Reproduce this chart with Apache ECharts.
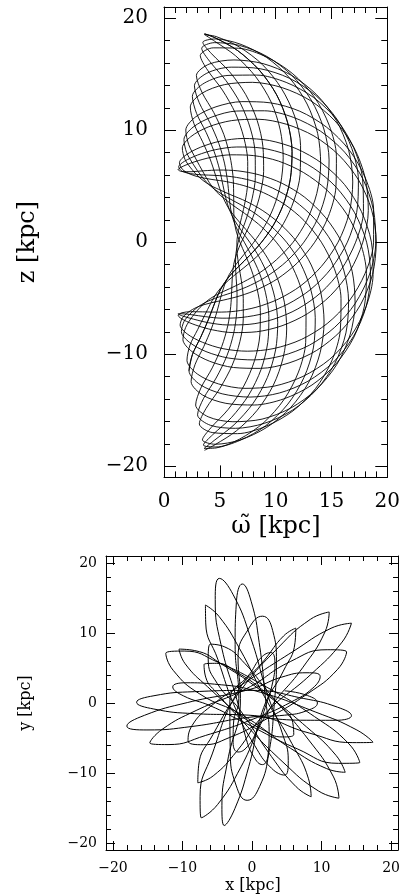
<!DOCTYPE html>
<html>
<head>
<meta charset="utf-8">
<script src="https://cdn.jsdelivr.net/npm/echarts@6/dist/echarts.min.js"></script>
<style>
html,body{margin:0;padding:0;background:#fff;}
#c{width:403px;height:896px;}
</style>
</head>
<body>
<div id="c"></div>
<script>
// ---------- DATA ----------
// Top panel: meridional-plane orbit. Angles (deg from the equator) of the samples along one pole-to-pole sweep:
const sweepAngles = [-79, -75.8, -69, -61.0, -52.6, -44.0, -35.3, -26.5, -17.7, -8.8, 0,
                     8.8, 17.7, 26.5, 35.3, 44.0, 52.6, 61.0, 69, 75.8, 79];
const samplesPerSweep = 20;
// Radius (kpc) of each consecutive sample; sweeps alternate upward / downward.
const meridionalR = [
  11.70, 10.35, 9.11, 8.06, 7.25, 6.72, 6.51, 6.61, 7.03, 7.74, 8.71, 9.88, 11.20, 12.60, 14.01, 15.35, 16.56, 17.56, 18.33, 18.80, 18.96,
  18.80, 18.33, 17.56, 16.56, 15.35, 14.01, 12.60, 11.20, 9.88, 8.71, 7.74, 7.03, 6.61, 6.51, 6.72, 7.25, 8.06, 9.11, 10.35, 11.70,
  13.11, 14.50, 15.81, 16.95, 17.87, 18.53, 18.89, 18.94, 18.66, 18.09, 17.22, 16.14, 14.88, 13.50, 12.10, 10.70, 9.44, 8.33, 7.45, 6.86,
  6.54, 6.56, 6.88, 7.51, 8.42, 9.53, 10.83, 12.21, 13.62, 14.99, 16.24, 17.30, 18.15, 18.70, 18.94, 18.88, 18.49, 17.80, 16.86, 15.70,
  14.39, 12.99, 11.59, 10.24, 9.02, 7.99, 7.20, 6.70, 6.50, 6.62, 7.07, 7.81, 8.80, 9.99, 11.32, 12.72, 14.12, 15.45, 16.65, 17.64,
  18.38, 18.82, 18.96, 18.77, 18.27, 17.49, 16.47, 15.24, 13.89, 12.49, 11.09, 9.77, 8.62, 7.67, 6.98, 6.59, 6.51, 6.76, 7.30, 8.14,
  9.21, 10.46, 11.82, 13.23, 14.61, 15.91, 17.03, 17.93, 18.58, 18.91, 18.92, 18.63, 18.02, 17.14, 16.05, 14.77, 13.39, 11.98, 10.60, 9.34,
  8.25, 7.39, 6.81, 6.53, 6.58, 6.92, 7.58, 8.51, 9.63, 10.94, 12.33, 13.74, 15.09, 16.34, 17.38, 18.20, 18.73, 18.95, 18.86, 18.45,
  17.73, 16.78, 15.60, 14.28, 12.88, 11.47, 10.13, 8.93, 7.91, 7.17, 6.67, 6.50, 6.65, 7.12, 7.88, 8.89, 10.09, 11.43, 12.84, 14.23,
  15.56, 16.74, 17.71, 18.43, 18.85, 18.95, 18.74, 18.22, 17.41, 16.37, 15.13, 13.78, 12.37, 10.98, 9.67, 8.54, 7.60, 6.94, 6.59, 6.52,
  6.80, 7.36, 8.22, 9.30, 10.56, 11.93, 13.35, 14.73, 16.01, 17.11, 18.02, 18.61, 18.92, 18.91, 18.59, 17.96, 17.06, 15.95, 14.65, 13.27,
  11.86, 10.50, 9.24, 8.17, 7.32, 6.77, 6.52, 6.58, 6.97, 7.65, 8.59, 9.74, 11.05, 12.44, 13.85, 15.20, 16.43, 17.46, 18.26, 18.76,
  18.95, 18.83, 18.40, 17.66, 16.69, 15.50, 14.17, 12.76, 11.36, 10.03, 8.84, 7.83, 7.09, 6.66, 6.50, 6.68, 7.18, 7.96, 8.99, 10.20,
  11.55, 12.95, 14.35, 15.66, 16.84, 17.78, 18.47, 18.87, 18.94, 18.71, 18.17, 17.34, 16.28, 15.03, 13.66, 12.25, 10.87, 9.57, 8.45, 7.54,
  6.90, 6.56, 6.53, 6.83, 7.43, 8.30, 9.40, 10.67, 12.05, 13.46, 14.84, 16.11, 17.20, 18.07, 18.66, 18.93, 18.90, 18.55, 17.90, 16.98,
  15.85, 14.55, 13.16, 11.74, 10.39, 9.15, 8.09, 7.27, 6.73, 6.51, 6.61, 7.02, 7.72, 8.67, 9.84, 11.16, 12.56, 13.96, 15.31, 16.53,
  17.53, 18.31, 18.79, 18.96, 18.81, 18.35, 17.59, 16.59, 15.39, 14.05, 12.65, 11.24, 9.92, 8.74, 7.78, 7.05, 6.63, 6.51, 6.71, 7.23,
  8.04, 9.08, 10.31, 11.66, 13.07, 14.46, 15.77, 16.92, 17.84, 18.52, 18.89, 18.94, 18.68, 18.11, 17.25, 16.18, 14.92, 13.55, 12.14, 10.75,
  9.47, 8.37, 7.48, 6.87, 6.54, 6.55, 6.87, 7.49, 8.39, 9.50, 10.79, 12.17, 13.58, 14.94, 16.21, 17.27, 18.13, 18.69, 18.94, 18.89,
  18.50, 17.83, 16.89, 15.75, 14.43, 13.04, 11.63, 10.28, 9.06, 8.02, 7.22, 6.70, 6.50, 6.62, 7.05, 7.79, 8.77, 9.95, 11.28, 12.68,
  14.08, 15.41, 16.62, 17.61, 18.36, 18.81, 18.96, 18.78, 18.29, 17.52, 16.50, 15.28, 13.93, 12.53, 11.13, 9.82, 8.66, 7.70, 7.00, 6.60,
  6.51, 6.74, 7.29, 8.11, 9.17, 10.41, 11.78, 13.19, 14.57, 15.87, 17.00, 17.91, 18.56, 18.90, 18.92, 18.64, 18.06, 17.17, 16.08, 14.81,
  13.43, 12.02, 10.64, 9.38, 8.28, 7.41, 6.82, 6.53, 6.57, 6.90, 7.56, 8.47, 9.59, 10.90, 12.28, 13.69, 15.06, 16.31, 17.35, 18.18,
  18.72, 18.95, 18.87, 18.46, 17.76, 16.81, 15.63, 14.32, 12.92, 11.53, 10.17, 8.97, 7.94, 7.18, 6.68, 6.50, 6.65, 7.10, 7.86, 8.86,
  10.05, 11.39, 12.79, 14.18, 15.52, 16.71, 17.68, 18.41, 18.84, 18.95, 18.76, 18.24, 17.44, 16.41, 15.17, 13.82, 12.41, 11.02, 9.71, 8.57,
  7.63, 6.96, 6.58, 6.52, 6.79, 7.32, 8.19, 9.26, 10.52, 11.89, 13.30, 14.69, 15.97, 17.08, 17.98, 18.60, 18.91, 18.92, 18.61, 17.98,
  17.09, 15.99, 14.69, 13.31, 11.90, 10.54, 9.28, 8.20, 7.35, 6.78, 6.52, 6.57, 6.96, 7.62, 8.56, 9.69, 11.01, 12.40, 13.81, 15.16,
  16.40, 17.43, 18.23, 18.75, 18.95, 18.84, 18.42, 17.69, 16.72, 15.54, 14.21, 12.81, 11.40, 10.06, 8.87, 7.86, 7.11, 6.65, 6.50, 6.67,
  7.16, 7.93, 8.95, 10.16, 11.51, 12.91, 14.31, 15.62, 16.80, 17.75, 18.46, 18.86, 18.95, 18.72, 18.19, 17.37, 16.32, 15.07, 13.70, 12.30,
  10.91, 9.61, 8.49, 7.56, 6.91, 6.57, 6.53, 6.82, 7.40, 8.27, 9.36, 10.63, 12.01, 13.42, 14.80, 16.07, 17.16, 18.04, 18.64, 18.93
];

// Bottom panel: x-y orbit, one revolution per row (petal out to one tip, across the centre, out to the opposite tip, back), kpc.
const xyLoops = [
  [[4.70,1.74],[7.99,1.06],[9.4,0],[7.99,-1.06],[4.70,-1.74],[0.18,-1.98],[-8.69,-3.36],[-15.11,-3.85],[-18.0,-3.3],[-15.49,-1.77],[-9.31,0.06],[-0.18,1.98]],
  [[4.21,3.68],[7.91,4.32],[9.8,3.8],[8.75,2.14],[5.59,0.12],[0.80,-2.05],[-6.66,-4.63],[-12.08,-5.94],[-14.7,-5.7],[-12.92,-3.76],[-8.04,-1.07],[-0.80,2.05]],
  [[5.57,5.95],[10.81,7.61],[13.6,7.3],[12.31,4.81],[8.03,1.35],[1.47,-2.62],[-3.28,-4.95],[-7.02,-5.96],[-9.2,-5.4],[-8.62,-3.22],[-5.92,-0.45],[-1.47,2.62]],
  [[5.85,7.33],[11.37,10.68],[14.3,11.4],[12.95,8.70],[8.45,4.07],[1.76,-1.63],[-2.18,-6.88],[-5.58,-10.41],[-7.8,-11.4],[-7.68,-8.97],[-5.62,-4.52],[-1.76,1.63]],
  [[3.83,7.97],[8.39,11.95],[11.1,13.0],[10.49,10.15],[7.27,5.03],[2.20,-1.39],[-1.58,-9.12],[-4.95,-14.50],[-7.3,-16.4],[-7.47,-13.38],[-5.72,-7.28],[-2.20,1.39]],
  [[1.80,6.15],[4.54,9.58],[6.3,10.7],[6.18,8.62],[4.50,4.55],[1.67,-0.66],[-0.47,-9.10],[-2.47,-15.09],[-4.0,-17.5],[-4.33,-14.67],[-3.53,-8.40],[-1.67,0.66]],
  [[-2.01,6.53],[-0.41,10.74],[1.5,12.4],[2.97,10.34],[3.51,5.87],[3.19,-0.27],[2.43,-7.09],[1.10,-11.91],[-0.7,-13.9],[-2.30,-11.73],[-3.13,-6.81],[-3.19,0.27]],
  [[-0.28,4.21],[1.31,6.49],[2.7,7.2],[3.29,5.75],[2.98,2.99],[1.90,-0.63],[0.67,-3.98],[-0.68,-6.24],[-2.0,-7.0],[-2.72,-5.66],[-2.67,-3.02],[-1.90,0.63]],
  [[-2.43,8.36],[-2.25,14.36],[-1.4,17.0],[-0.13,14.54],[1.03,8.64],[1.98,0.25],[2.46,-4.11],[2.32,-7.30],[1.5,-8.8],[0.24,-7.66],[-0.96,-4.69],[-1.98,-0.25]],
  [[-4.46,8.34],[-5.29,14.79],[-4.7,17.8],[-2.71,15.47],[-0.24,9.46],[2.36,0.84],[4.33,-4.25],[5.21,-8.21],[4.7,-10.3],[2.79,-9.31],[0.37,-6.05],[-2.36,-0.84]],
  [[-4.92,6.25],[-6.66,11.44],[-6.7,14.0],[-4.74,12.36],[-1.78,7.75],[1.75,0.97],[5.72,-5.77],[8.12,-10.82],[8.5,-13.4],[6.34,-11.96],[2.78,-7.63],[-1.75,-0.97]],
  [[-4.99,2.78],[-6.30,6.28],[-6.0,8.4],[-3.90,8.00],[-1.01,5.62],[2.18,1.76],[8.05,-5.15],[11.72,-10.56],[12.5,-13.6],[9.54,-12.56],[4.45,-8.45],[-2.18,-1.76]],
  [[-4.75,1.12],[-6.66,3.69],[-6.9,5.5],[-5.08,5.67],[-2.15,4.38],[1.47,1.90],[4.25,-0.58],[5.86,-2.81],[6.0,-4.5],[4.34,-4.85],[1.75,-3.92],[-1.47,-1.90]],
  [[-6.38,2.31],[-9.62,5.61],[-10.5,7.7],[-8.24,7.49],[-4.12,5.39],[1.30,1.77],[7.83,-3.41],[12.08,-7.48],[13.4,-9.9],[10.70,-9.36],[5.57,-6.49],[-1.30,-1.77]],
  [[-7.50,1.28],[-11.33,4.66],[-12.4,7.1],[-9.75,7.42],[-4.90,5.82],[1.47,2.62],[9.01,-1.96],[13.94,-5.84],[15.5,-8.5],[12.42,-8.62],[6.49,-6.54],[-1.47,-2.62]],
  [[-6.01,-0.39],[-9.88,1.03],[-11.4,2.3],[-9.50,2.89],[-5.39,2.69],[0.45,1.74],[9.18,-1.31],[15.08,-3.86],[17.4,-5.6],[14.50,-5.66],[8.22,-4.29],[-0.45,-1.74]],
  [[-8.31,-1.52],[-14.12,-0.86],[-16.6,0.1],[-14.10,1.04],[-8.29,1.62],[0.12,1.80],[7.35,0.66],[12.28,-0.59],[14.3,-1.8],[12.04,-2.47],[6.95,-2.46],[-0.12,-1.80]]
];

// Tick values
const topXMajor = [0, 5, 10, 15, 20];
const topXMinor = [1,2,3,4,6,7,8,9,11,12,13,14,16,17,18,19];
const topYMajor = [-20, -10, 0, 10, 20];
const topYMinor = [-18,-16,-14,-12,-8,-6,-4,-2,2,4,6,8,12,14,16,18];
const botMajor = [-20, -10, 0, 10, 20];
const botMinor = [-18,-16,-14,-12,-8,-6,-4,-2,2,4,6,8,12,14,16,18];

// ---------- BUILD ----------
const meridionalData = meridionalR.map(function (r, j) {
  const s = Math.floor(j / samplesPerSweep);
  const k = j - s * samplesPerSweep;
  const ang = (s % 2 === 0) ? sweepAngles[k] : sweepAngles[samplesPerSweep - k];
  return [r, ang];
});
const xyData = [];
xyLoops.forEach(function (loop) { loop.forEach(function (p) { xyData.push(p); }); });

const fmt = function (v) { return v < 0 ? '\u2212' + Math.abs(v) : String(v); };
const black = '#000';

function axis(o) {
  return {
    type: 'value', gridIndex: o.grid, min: o.min, max: o.max, position: o.pos,
    axisLine: { show: o.line, onZero: false, lineStyle: { color: black, width: 1 } },
    axisTick: { show: true, inside: true, length: o.len, customValues: o.ticks, lineStyle: { color: black, width: 1 } },
    axisLabel: o.labels ? {
      show: true, customValues: o.ticks, formatter: fmt, color: black,
      fontFamily: 'DejaVu Serif', fontSize: o.fs, margin: o.margin
    } : { show: false },
    splitLine: { show: false }, minorTick: { show: false }
  };
}

const G0 = { left: 164, top: 7, width: 224, height: 470.4 };
const G1 = { left: 106, top: 556, width: 294, height: 294 };

const xAxes = [
  axis({ grid: 0, min: 0, max: 20, pos: 'bottom', line: true, len: 12, ticks: topXMajor, labels: true, fs: 20, margin: 14 }),
  axis({ grid: 0, min: 0, max: 20, pos: 'bottom', line: false, len: 6, ticks: topXMinor }),
  axis({ grid: 0, min: 0, max: 20, pos: 'top', line: true, len: 12, ticks: topXMajor }),
  axis({ grid: 0, min: 0, max: 20, pos: 'top', line: false, len: 6, ticks: topXMinor }),
  axis({ grid: 1, min: -21, max: 21, pos: 'bottom', line: true, len: 9, ticks: botMajor, labels: true, fs: 14, margin: 11 }),
  axis({ grid: 1, min: -21, max: 21, pos: 'bottom', line: false, len: 5, ticks: botMinor }),
  axis({ grid: 1, min: -21, max: 21, pos: 'top', line: true, len: 9, ticks: botMajor }),
  axis({ grid: 1, min: -21, max: 21, pos: 'top', line: false, len: 5, ticks: botMinor })
];
const yAxes = [
  axis({ grid: 0, min: -21, max: 21, pos: 'left', line: true, len: 12, ticks: topYMajor, labels: true, fs: 20, margin: 16 }),
  axis({ grid: 0, min: -21, max: 21, pos: 'left', line: false, len: 6, ticks: topYMinor }),
  axis({ grid: 0, min: -21, max: 21, pos: 'right', line: true, len: 12, ticks: topYMajor }),
  axis({ grid: 0, min: -21, max: 21, pos: 'right', line: false, len: 6, ticks: topYMinor }),
  axis({ grid: 1, min: -21, max: 21, pos: 'left', line: true, len: 9, ticks: botMajor, labels: true, fs: 14, margin: 9 }),
  axis({ grid: 1, min: -21, max: 21, pos: 'left', line: false, len: 5, ticks: botMinor }),
  axis({ grid: 1, min: -21, max: 21, pos: 'right', line: true, len: 9, ticks: botMajor }),
  axis({ grid: 1, min: -21, max: 21, pos: 'right', line: false, len: 5, ticks: botMinor })
];

const chart = echarts.init(document.getElementById('c'), null, { renderer: 'canvas' });
chart.setOption({
  backgroundColor: '#fff',
  animation: false,
  grid: [
    Object.assign({ containLabel: false }, G0),
    Object.assign({ containLabel: false }, G1)
  ],
  polar: {
    center: [G0.left, G0.top + G0.height / 2],
    radius: G0.height / 2
  },
  angleAxis: { type: 'value', min: -180, max: 180, startAngle: 180, clockwise: false, show: false },
  radiusAxis: { type: 'value', min: 0, max: 21, show: false },
  xAxis: xAxes,
  yAxis: yAxes,
  series: [
    {
      type: 'line', coordinateSystem: 'polar', polarIndex: 0,
      data: meridionalData, smooth: 0.3, showSymbol: false, symbol: 'none', silent: true,
      lineStyle: { color: black, width: 0.9 }
    },
    {
      type: 'line', xAxisIndex: 4, yAxisIndex: 4,
      data: xyData, smooth: 0.5, showSymbol: false, symbol: 'none', silent: true,
      lineStyle: { color: black, width: 1 }
    }
  ],
  graphic: [
    { type: 'text', x: 28, y: 242, rotation: Math.PI / 2,
      style: { text: 'z [kpc]', font: '24px "DejaVu Serif"', fill: black, textAlign: 'center', textVerticalAlign: 'middle' } },
    { type: 'text', x: 276, y: 527,
      style: { text: '\u03C9\u0303 [kpc]', font: '24px "DejaVu Serif"', fill: black, textAlign: 'center', textVerticalAlign: 'middle' } },
    { type: 'text', x: 26, y: 703, rotation: Math.PI / 2,
      style: { text: 'y [kpc]', font: '16px "DejaVu Serif"', fill: black, textAlign: 'center', textVerticalAlign: 'middle' } },
    { type: 'text', x: 253, y: 886,
      style: { text: 'x [kpc]', font: '16px "DejaVu Serif"', fill: black, textAlign: 'center', textVerticalAlign: 'middle' } }
  ]
});
</script>
</body>
</html>
